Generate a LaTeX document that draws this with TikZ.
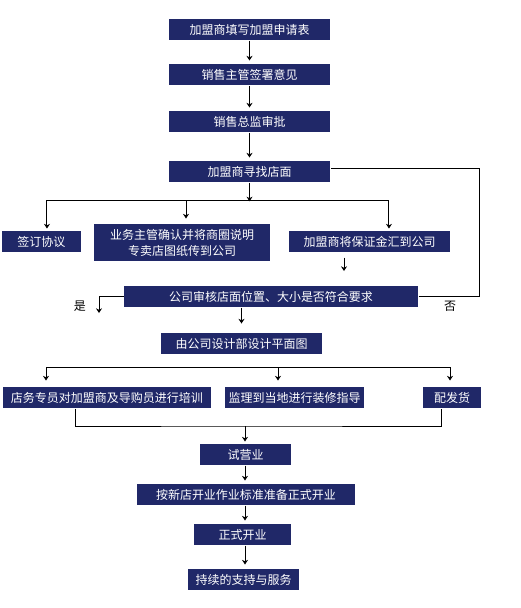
\documentclass[tikz,border=0pt]{standalone}
\usepackage{fontspec}
\setmainfont{Noto Sans CJK SC}
\usetikzlibrary{arrows.meta}
\definecolor{navy}{RGB}{32,40,104}

\begin{document}
\begin{tikzpicture}[x=0.75pt,y=-0.75pt,line width=0.75pt,>={Stealth[length=3.5pt,width=4.5pt]},
  box/.style={fill=navy,text=white,inner sep=0pt,minimum height=15.75pt,align=center,font=\fontsize{9}{12}\selectfont},
  lbl/.style={font=\fontsize{9}{12}\selectfont}]
\useasboundingbox (0,0) rectangle (521,608);
\draw node[box,minimum width=120.75pt] (apply) at (249.5,29.5) {加盟商填写加盟申请表};
\draw node[box,minimum width=120.75pt] (sign) at (249.5,74.5) {销售主管签署意见};
\draw node[box,minimum width=120.75pt] (approve) at (249.5,121.5) {销售总监审批};
\draw node[box,minimum width=120.75pt] (shop) at (249.5,171.5) {加盟商寻找店面};
\draw node[box,minimum width=59.25pt] (contract) at (41.5,241.5) {签订协议};
\draw node[box,minimum width=132pt,minimum height=27.75pt] (plan) at (182,242.5) {业务主管确认并将商圈说明\\专卖店图纸传到公司};
\draw node[box,minimum width=120.75pt] (deposit) at (369.5,241.5) {加盟商将保证金汇到公司};
\draw node[box,minimum width=220.5pt] (review) at (271,296.5) {公司审核店面位置、大小是否符合要求};
\draw node[box,minimum width=120.75pt] (design) at (241.5,343.5) {由公司设计部设计平面图};
\draw node[box,minimum width=156pt] (train) at (107,397.5) {店务专员对加盟商及导购员进行培训};
\draw node[box,minimum width=104.25pt] (guide) at (294.5,397.5) {监理到当地进行装修指导};
\draw node[box,minimum width=43.5pt] (ship) at (452,397.5) {配发货};
\draw node[box,minimum width=68.25pt] (trial) at (245.5,454.5) {试营业};
\draw node[box,minimum width=163.5pt] (prepare) at (246,494.5) {按新店开业作业标准准备正式开业};
\draw node[box,minimum width=72.75pt] (open) at (242.5,534.5) {正式开业};
\draw node[box,minimum width=83.25pt] (service) at (243.5,579.5) {持续的支持与服务};
\node[lbl] (yeslbl) at (80,306) {是};
\node[lbl] (nolbl) at (450,306) {否};
% points where the lines split, join or end
\coordinate (split) at (249.5,200);
\coordinate (wait) at (344,271);
\coordinate (back) at (479,296.5);
\coordinate (yes) at (99,313);
\coordinate (spl) at (46,367);
\coordinate (spm) at (278,367);
\coordinate (spr) at (450,367);
\coordinate (join) at (245,426);
\draw[->,shorten >=2.25pt] (apply) -- (sign);
\draw[->,shorten >=2.25pt] (sign) -- (approve);
\draw[->,shorten >=2.25pt] (approve) -- (shop);
\draw[->,shorten >=-1pt] (shop) -- (split);
\draw[->,shorten >=1.5pt] (split) -| ([xshift=4.1pt]contract.north);
\draw[->,shorten >=3.75pt] (split) -| ([xshift=3pt]plan.north);
\draw[->,shorten >=1.5pt] (split) -| ([xshift=14.6pt]deposit.north);
\draw[->,shorten <=3.75pt] (deposit.south -| wait) -- (wait);
\draw (review) -- (back) |- ([yshift=1.9pt]shop.east);
\draw[->] (review) -| (yes);
\draw[->,shorten >=6.75pt] (review.south -| design) -- (design);
\draw (spl) -- (spr);
\draw[->,shorten >=4.5pt] (spl) -- (train.north -| spl);
\draw[->,shorten >=4.5pt] (spm) -- (guide.north -| spm);
\draw[->,shorten >=4.5pt] (spr) -- (ship.north -| spr);
\draw ([xshift=-24pt]train.south) |- (join) -| ([xshift=-8.25pt]ship.south);
\draw[->,shorten >=1.5pt] (join) -- (trial.north -| join);
\draw[->,shorten >=2.25pt] (trial.south -| join) -- (prepare.north -| join);
\draw[->,shorten >=2.25pt] (prepare.south -| join) -- (open.north -| join);
\draw[->,shorten >=3pt] (open.south -| join) -- (service.north -| join);
\end{tikzpicture}
\end{document}
